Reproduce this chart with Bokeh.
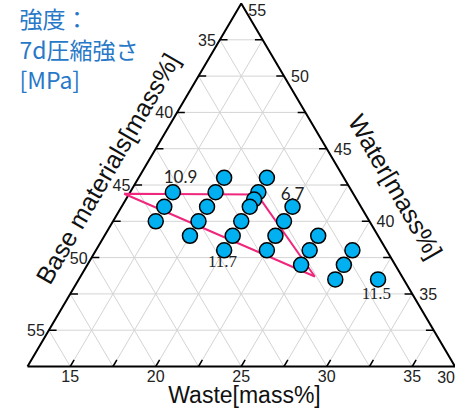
import math
from bokeh.plotting import figure
from bokeh.models import Range1d, Label
from bokeh.core.properties import value
from bokeh.embed import file_html
from bokeh.resources import INLINE

# ---------------- data (mass%) ----------------
# sample compositions: Waste, Water  (Base materials = 100 - Waste - Water)
waste = [17.5, 20, 15, 17.5, 20, 20, 15, 17.5, 20, 22.5, 15, 17.5, 20, 22.5,
         17.5, 20, 22.5, 25, 20, 22.5, 25, 27.5, 25, 27.5, 27.5, 30]
water = [43, 43, 42, 42, 42, 41.5, 41, 41, 41, 41, 40, 40, 40, 40,
         39, 39, 39, 39, 38, 38, 38, 38, 37, 37, 36, 36]

# highlighted region (pink triangle)
region_waste = [12.2, 20.0, 26.2]
region_water = [41.9, 41.85, 36.2]

# strength annotations (7d compressive strength, MPa)
strength_text = ["10.9", "6.7", "11.7", "11.5"]
strength_waste = [14.9, 22.05, 20.3, 30.4]
strength_water = [43.1, 41.9, 37.2, 35.0]
strength_font = ["Lato", "Lato", "Liberation Serif", "Liberation Serif"]

# axes of the zoomed ternary window
WASTE_MIN, BASE_MIN, WATER_MIN = 12.5, 32.5, 30.0
SPAN = 25.0
STEP = 2.5
waste_ticks = [15, 20, 25, 30, 35]
base_ticks = [35, 40, 45, 50, 55]
water_ticks = [35, 40, 45, 50, 55]
water_corner_tick = 30

title_lines = ["強度：", "7d圧縮強さ", "[MPa]"]

SQ = math.sqrt(3) / 2


def tern(w, a):
    """(Waste, Water) -> cartesian."""
    return w + (a - WATER_MIN) / 2.0, (a - WATER_MIN) * SQ


# ---------------- figure ----------------
W, H = 455, 409
LEFT_PX, BOTTOM_PX, TOP_PX = 27.0, 366.0, 3.0
sx = 17.1
sy = (BOTTOM_PX - TOP_PX) / (SPAN * SQ)
x0 = WASTE_MIN - LEFT_PX / sx
x1 = x0 + W / sx
y1 = BOTTOM_PX / sy
y0 = y1 - H / sy

p = figure(width=W, height=H, output_backend="svg", toolbar_location=None,
           x_range=Range1d(x0, x1), y_range=Range1d(y0, y1),
           x_axis_location=None, y_axis_location=None, min_border=0)
p.grid.visible = False
p.outline_line_color = None
p.background_fill_color = "white"
p.border_fill_color = "white"


def pix(px, py):
    """screen pixel -> data coords (for free-standing titles)."""
    return x0 + px / sx, y1 - py / sy


# grid lines
gx, gy = [], []
n = int(SPAN / STEP)
for i in range(1, n):
    d = i * STEP
    a = WATER_MIN + d                      # constant water
    xa, ya = tern(WASTE_MIN, a)
    xb, yb = tern(100 - BASE_MIN - a, a)
    gx.append([xa, xb]); gy.append([ya, yb])
    w = WASTE_MIN + d                      # constant waste
    xa, ya = tern(w, WATER_MIN)
    xb, yb = tern(w, 100 - BASE_MIN - w)
    gx.append([xa, xb]); gy.append([ya, yb])
    b = BASE_MIN + d                       # constant base
    xa, ya = tern(WASTE_MIN, 100 - b - WASTE_MIN)
    xb, yb = tern(100 - b - WATER_MIN, WATER_MIN)
    gx.append([xa, xb]); gy.append([ya, yb])
p.multi_line(gx, gy, line_color="#D4D4D4", line_width=1)

# triangle outline
vx, vy = zip(*[tern(WASTE_MIN, WATER_MIN), tern(WASTE_MIN + SPAN, WATER_MIN),
               tern(WASTE_MIN, WATER_MIN + SPAN), tern(WASTE_MIN, WATER_MIN)])
p.line(list(vx), list(vy), line_color="black", line_width=2)

# tick marks
tl = 0.45
tx, ty = [], []
for i in range(1, n):
    d = i * STEP
    xa, ya = tern(WASTE_MIN + d, WATER_MIN)                       # bottom
    tx.append([xa, xa + tl * 0.5]); ty.append([ya, ya + tl * SQ])
    xa, ya = tern(WASTE_MIN, WATER_MIN + d)                       # left
    tx.append([xa, xa + tl]); ty.append([ya, ya])
    xa, ya = tern(100 - BASE_MIN - (WATER_MIN + d), WATER_MIN + d)  # right
    tx.append([xa, xa - tl]); ty.append([ya, ya])
p.multi_line(tx, ty, line_color="black", line_width=1.5)

# highlighted region
rx, ry = zip(*[tern(w, a) for w, a in zip(region_waste + region_waste[:1],
                                           region_water + region_water[:1])])
p.line(list(rx), list(ry), line_color="#F0287D", line_width=2)

# samples
px_, py_ = zip(*[tern(w, a) for w, a in zip(waste, water)])
p.scatter(list(px_), list(py_), size=15, fill_color="#00B0F0",
          line_color="black", line_width=1.5)

# strength labels
for t, w, a, f in zip(strength_text, strength_waste, strength_water, strength_font):
    lx, ly = tern(w, a)
    p.add_layout(Label(x=lx, y=ly, text=t, text_font=f, text_font_size="17px",
                       text_align="center", text_baseline="middle",
                       text_color="#222222"))

TICK_FONT = value("Liberation Sans")
TICK_SIZE = value("16px")

# bottom tick labels (Waste)
bx = [tern(w, WATER_MIN)[0] for w in waste_ticks]
p.text(bx, [0] * len(bx), text=[str(v) for v in waste_ticks], y_offset=9,
       text_align="center", text_baseline="middle",
       text_font=TICK_FONT, text_font_size=TICK_SIZE, text_color="#222222")

# left tick labels (Base materials)
lpts = [tern(WASTE_MIN, 100 - b - WASTE_MIN) for b in base_ticks]
p.text([q[0] for q in lpts], [q[1] for q in lpts], text=[str(v) for v in base_ticks],
       x_offset=-4, text_align="right", text_baseline="middle",
       text_font=TICK_FONT, text_font_size=TICK_SIZE, text_color="#222222")

# right tick labels (Water)
rpts = [tern(100 - BASE_MIN - a, a) for a in water_ticks]
p.text([q[0] for q in rpts], [q[1] for q in rpts], text=[str(v) for v in water_ticks],
       x_offset=7, y_offset=[0, 0, 0, 0, 6], text_align="left", text_baseline="middle",
       text_font=TICK_FONT, text_font_size=TICK_SIZE, text_color="#222222")
cx, cy = tern(100 - BASE_MIN - water_corner_tick, water_corner_tick)
p.text([cx], [cy], text=[str(water_corner_tick)], x_offset=0, y_offset=10,
       text_align="right", text_baseline="middle",
       text_font=TICK_FONT, text_font_size=TICK_SIZE, text_color="#222222")

# axis titles
ax, ay = pix(107, 168)
p.add_layout(Label(x=ax, y=ay, text="Base materials[mass%]", angle=math.pi / 3,
                   text_align="center", text_baseline="middle",
                   text_font="Liberation Sans", text_font_size="25px", text_color="#111111"))
ax, ay = pix(395, 186)
p.add_layout(Label(x=ax, y=ay, text="Water[mass%]", angle=-math.pi / 3,
                   text_align="center", text_baseline="middle",
                   text_font="Liberation Sans", text_font_size="25px", text_color="#111111"))
ax, ay = pix(244, 394)
p.add_layout(Label(x=ax, y=ay, text="Waste[mass%]",
                   text_align="center", text_baseline="middle",
                   text_font="Liberation Sans", text_font_size="23px", text_color="#111111"))

# title (top left)
for line, py in zip(title_lines, [17, 48, 78]):
    ax, ay = pix(19, py)
    p.add_layout(Label(x=ax, y=ay, text=line, text_align="left", text_baseline="middle",
                       text_font="Noto Sans CJK JP", text_font_size="23px",
                       text_color="#2878C8"))

open("out.html", "w").write(file_html(p, INLINE))
